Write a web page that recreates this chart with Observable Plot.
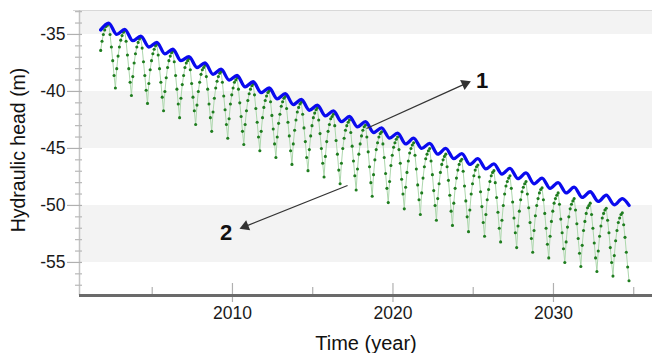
<!DOCTYPE html>
<html><head><meta charset="utf-8">
<script src="https://cdn.jsdelivr.net/npm/d3@7"></script>
<script src="https://cdn.jsdelivr.net/npm/@observablehq/plot@0.6"></script>
<style>body{margin:0;background:#fff;} #chart svg{display:block;}</style>
</head><body><div id="chart"></div>
<script>
// ---- data ----
// green series: monthly samples starting at greenStart (decimal year)
const greenStart = 2001.79;
const greenHead = [
 -36.4, -35.6, -35.0, -34.6, -34.3, -34.2,
 -34.05, -35.0, -36.1, -37.3, -38.6, -39.7, -38.0, -36.9, -36.1, -35.5, -35.1, -34.8,
 -34.65, -35.6, -36.8, -38.0, -39.2, -40.35, -38.7, -37.5, -36.7, -36.1, -35.7, -35.4,
 -35.25, -36.2, -37.4, -38.6, -39.9, -41.05, -39.3, -38.1, -37.3, -36.7, -36.3, -36.0,
 -35.85, -36.8, -38.0, -39.2, -40.5, -41.7, -40.0, -38.8, -37.9, -37.3, -36.9, -36.6,
 -36.45, -37.4, -38.6, -39.8, -41.1, -42.3, -40.6, -39.4, -38.6, -37.9, -37.5, -37.3,
 -37.1, -38.1, -39.3, -40.5, -41.7, -42.9, -41.2, -40.0, -39.2, -38.5, -38.1, -37.9,
 -37.7, -38.7, -39.8, -41.1, -42.3, -43.5, -41.8, -40.6, -39.7, -39.1, -38.7, -38.4,
 -38.25, -39.2, -40.4, -41.6, -42.9, -44.1, -42.4, -41.1, -40.3, -39.7, -39.2, -39.0,
 -38.8, -39.8, -41.0, -42.2, -43.5, -44.65, -42.9, -41.7, -40.8, -40.2, -39.8, -39.5,
 -39.35, -40.3, -41.5, -42.7, -44.0, -45.2, -43.5, -42.3, -41.4, -40.8, -40.4, -40.1,
 -39.95, -40.9, -42.1, -43.3, -44.6, -45.8, -44.0, -42.8, -42.0, -41.3, -40.9, -40.6,
 -40.45, -41.5, -42.7, -43.9, -45.2, -46.4, -44.6, -43.4, -42.5, -41.8, -41.4, -41.1,
 -40.95, -42.0, -43.2, -44.4, -45.8, -46.95, -45.1, -43.9, -43.0, -42.3, -41.9, -41.6,
 -41.45, -42.5, -43.7, -45.0, -46.3, -47.5, -45.7, -44.4, -43.5, -42.9, -42.4, -42.2,
 -42.0, -43.0, -44.3, -45.5, -46.9, -48.1, -46.3, -45.0, -44.1, -43.4, -43.0, -42.7,
 -42.5, -43.6, -44.8, -46.1, -47.4, -48.65, -46.8, -45.5, -44.6, -43.9, -43.4, -43.1,
 -42.95, -44.0, -45.3, -46.6, -48.0, -49.2, -47.3, -46.0, -45.1, -44.5, -44.0, -43.7,
 -43.55, -44.6, -45.8, -47.2, -48.5, -49.75, -47.9, -46.5, -45.6, -44.9, -44.5, -44.2,
 -44.0, -45.1, -46.3, -47.7, -49.0, -50.3, -48.4, -47.1, -46.1, -45.4, -45.0, -44.7,
 -44.5, -45.6, -46.8, -48.2, -49.5, -50.8, -48.9, -47.6, -46.6, -45.9, -45.5, -45.2,
 -45.0, -46.1, -47.3, -48.7, -50.0, -51.3, -49.4, -48.1, -47.1, -46.4, -46.0, -45.7,
 -45.5, -46.6, -47.8, -49.1, -50.5, -51.75, -49.8, -48.5, -47.6, -46.9, -46.4, -46.1,
 -45.95, -47.0, -48.3, -49.6, -51.0, -52.3, -50.4, -49.0, -48.1, -47.4, -46.9, -46.6,
 -46.45, -47.5, -48.8, -50.1, -51.5, -52.7, -50.8, -49.5, -48.6, -47.9, -47.4, -47.1,
 -46.95, -48.0, -49.3, -50.6, -52.0, -53.2, -51.3, -50.0, -49.0, -48.3, -47.9, -47.6,
 -47.4, -48.5, -49.7, -51.1, -52.4, -53.7, -51.8, -50.5, -49.5, -48.8, -48.4, -48.1,
 -47.9, -49.0, -50.2, -51.5, -52.9, -54.1, -52.2, -50.9, -50.0, -49.4, -48.9, -48.6,
 -48.45, -49.5, -50.7, -52.0, -53.4, -54.6, -52.7, -51.4, -50.5, -49.8, -49.4, -49.1,
 -48.9, -49.9, -51.2, -52.4, -53.8, -55.0, -53.2, -51.9, -51.0, -50.3, -49.9, -49.6,
 -49.4, -50.4, -51.6, -52.9, -54.2, -55.35, -53.5, -52.2, -51.4, -50.7, -50.2, -50.0,
 -49.8, -50.8, -52.0, -53.3, -54.6, -55.8, -54.0, -52.7, -51.8, -51.1, -50.7, -50.4,
 -50.25, -51.3, -52.4, -53.7, -55.0, -56.2, -54.4, -53.1, -52.2, -51.5, -51.1, -50.8,
 -50.65, -51.7, -52.8, -54.1, -55.4, -56.6
];

// blue series: seasonal highs and lows (decimal year, head in m)
const blueTime = [2001.79,
 2002.29, 2002.79, 2003.29, 2003.79, 2004.29, 2004.79, 2005.29, 2005.79, 2006.29, 2006.79,
 2007.29, 2007.79, 2008.29, 2008.79, 2009.29, 2009.79, 2010.29, 2010.79, 2011.29, 2011.79,
 2012.29, 2012.79, 2013.29, 2013.79, 2014.29, 2014.79, 2015.29, 2015.79, 2016.29, 2016.79,
 2017.29, 2017.79, 2018.29, 2018.79, 2019.29, 2019.79, 2020.29, 2020.79, 2021.29, 2021.79,
 2022.29, 2022.79, 2023.29, 2023.79, 2024.29, 2024.79, 2025.29, 2025.79, 2026.29, 2026.79,
 2027.29, 2027.79, 2028.29, 2028.79, 2029.29, 2029.79, 2030.29, 2030.79, 2031.29, 2031.79,
 2032.29, 2032.79, 2033.29, 2033.79, 2034.29, 2034.71];
const blueHead = [-34.6,
 -34.0, -35.0, -34.55, -35.55, -35.15, -36.1, -35.7, -36.7, -36.3, -37.3,
 -36.95, -37.9, -37.5, -38.5, -38.05, -39.0, -38.6, -39.6, -39.15, -40.1,
 -39.7, -40.65, -40.2, -41.15, -40.7, -41.65, -41.2, -42.15, -41.7, -42.65,
 -42.2, -43.1, -42.65, -43.6, -43.2, -44.1, -43.65, -44.6, -44.1, -45.0,
 -44.55, -45.5, -45.0, -45.9, -45.45, -46.4, -45.9, -46.8, -46.35, -47.25,
 -46.75, -47.65, -47.15, -48.1, -47.6, -48.5, -48.0, -48.9, -48.4, -49.3,
 -48.8, -49.65, -49.1, -49.95, -49.4, -50.0];

// ticks
const yMajorTicks = [-55, -50, -45, -40, -35];
const yMinorTicks = [-57, -56, -54, -53, -52, -51, -49, -48, -47, -46, -44, -43, -42, -41, -39, -38, -37, -36, -34, -33];
const xMajorTicks = [2010, 2020, 2030];
const xMinorTicks = [2005, 2015, 2025, 2035];

// shaded horizontal bands
const bandTop = [-32.9, -40, -50];
const bandBottom = [-35, -45, -55];

// annotations
const arrowLabels = ["1", "2"];
const arrowFromX = [2018.35, 2017.17];
const arrowFromY = [-43.25, -48.25];
const arrowToX = [2024.7, 2010.6];
const arrowToY = [-39.2, -51.95];
const labelX = [2025.55, 2009.6];
const labelY = [-39.1, -52.4];

// ---- build tables ----
const green = greenHead.map((v, i) => ({t: greenStart + i / 12, v}));
const blue = blueTime.map((t, i) => ({t, v: blueHead[i]}));
const bands = bandTop.map((t, i) => ({y1: bandBottom[i], y2: t}));
const arrows = arrowLabels.map((l, i) => ({l, x1: arrowFromX[i], y1: arrowFromY[i], x2: arrowToX[i], y2: arrowToY[i], lx: labelX[i], ly: labelY[i]}));

const xDomain = [2000.47, 2036.17];
const yDomain = [-57.9, -32.9];
const font = "Liberation Sans, Arial, Helvetica, sans-serif";
const frameW = 654 - 79 - 2;
const frameH = 353 - 10 - 58;

const chart = Plot.plot({
  width: 654,
  height: 353,
  marginLeft: 79,
  marginRight: 2,
  marginTop: 10,
  marginBottom: 58,
  style: {fontFamily: font, background: "#fff", overflow: "visible"},
  x: {domain: xDomain, axis: null},
  y: {domain: yDomain, axis: null},
  marks: [
    Plot.rect(bands, {x1: xDomain[0], x2: xDomain[1], y1: "y1", y2: "y2", fill: "#f3f3f3"}),
    Plot.ruleY([yDomain[1]], {stroke: "#d8d8d8", strokeWidth: 1, insetLeft: -6}),
    Plot.ruleX([xDomain[0]], {stroke: "#c4c4c4", strokeWidth: 1.5}),
    // y ticks
    Plot.ruleY(yMajorTicks, {y: d => d, stroke: "#b0b0b0", strokeWidth: 1.2, insetLeft: -12, insetRight: frameW - 3}),
    Plot.ruleY(yMinorTicks, {y: d => d, stroke: "#b8b8b8", strokeWidth: 1.2, insetLeft: -4, insetRight: frameW - 3}),
    Plot.text(yMajorTicks, {y: d => d, text: d => (d < 0 ? "-" : "") + Math.abs(d), frameAnchor: "left", dx: -14, textAnchor: "end", lineAnchor: "middle", fontSize: 17.5, fill: "#1a1a1a"}),
    // x ticks
    Plot.ruleX(xMajorTicks, {x: d => d, stroke: "#b0b0b0", strokeWidth: 1.2, insetTop: frameH - 12, insetBottom: -7}),
    Plot.ruleX(xMinorTicks, {x: d => d, stroke: "#b0b0b0", strokeWidth: 1.2, insetTop: frameH - 8}),
    Plot.text(xMajorTicks, {x: d => d, text: d => String(d), frameAnchor: "bottom", lineAnchor: "middle", dy: 18, fontSize: 17.5, fill: "#1a1a1a"}),
    // data
    Plot.line(green, {x: "t", y: "v", stroke: "#acd7ac", strokeWidth: 1}),
    Plot.dot(green, {x: "t", y: "v", r: 1.55, fill: "#1f7d1f", stroke: null}),
    Plot.line(blue, {x: "t", y: "v", stroke: "#0a0aee", strokeWidth: 3.3, curve: "monotone-x"}),
    // x axis line
    Plot.ruleY([yDomain[0]], {stroke: "#6a6a6a", strokeWidth: 3}),
    // annotations
    Plot.link(arrows, {x1: "x1", y1: "y1", x2: "x2", y2: "y2", stroke: "#333", strokeWidth: 1.3}),
    Plot.dot(arrows.slice(0, 1), {x: "x2", y: "y2", symbol: "triangle", r: 4, fill: "#333", stroke: null, rotate: 65.7, dx: -3.2, dy: 1.4}),
    Plot.dot(arrows.slice(1, 2), {x: "x2", y: "y2", symbol: "triangle", r: 4, fill: "#333", stroke: null, rotate: 248.2, dx: 3.2, dy: -1.3}),
    Plot.text(arrows, {x: "lx", y: "ly", text: "l", fontSize: 22, fontWeight: "bold", fill: "#111"}),
    // axis titles
    Plot.text(["Time (year)"], {frameAnchor: "bottom", lineAnchor: "middle", dy: 48, fontSize: 20, fill: "#111"}),
    Plot.text(["Hydraulic head (m)"], {frameAnchor: "left", textAnchor: "middle", lineAnchor: "middle", dx: -61, dy: -3, rotate: -90, fontSize: 19.5, fill: "#111"})
  ]
});
document.getElementById("chart").appendChild(chart);
</script>
</body></html>
